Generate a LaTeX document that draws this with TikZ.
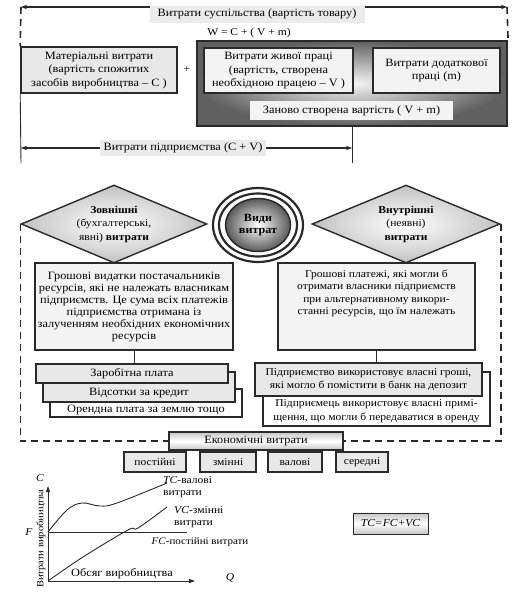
\documentclass[tikz,border=0pt]{standalone}
\usepackage{fontspec}
\setmainfont{Liberation Serif}[FakeStretch=1.1]
\usetikzlibrary{shapes.geometric,arrows.meta,calc}
\definecolor{lineC}{HTML}{2A2A2A}
\definecolor{fillC}{HTML}{E8E8E8}
\definecolor{lblC}{HTML}{EBEBEB}
\definecolor{paleC}{HTML}{F3F3F3}
\begin{document}
\begin{tikzpicture}[x=1pt,y=-1pt,
  every node/.style={inner sep=0pt},
  txt/.style={font=\fontsize{10.5}{12.5}\selectfont, align=center},
  big/.style={font=\fontsize{11.2}{13.2}\selectfont},
  lbl/.style={txt, big, fill=lblC, inner xsep=4pt, inner ysep=2.5pt},
  box/.style={txt, draw=lineC, line width=1.6pt, fill=fillC},
  pale/.style={box, fill=paleC},
  arr/.style={line width=1.2pt, lineC, {Stealth[length=6pt,width=4.5pt]}-{Stealth[length=6pt,width=4.5pt]}},
  dashl/.style={line width=1.6pt, lineC, dash pattern=on 7pt off 5pt},
  conn/.style={line width=0.9pt, lineC},
  grad/.style={top color=gray!45, bottom color=gray!45, middle color=white},
  axarr/.style={conn, -{Triangle[length=6pt,width=4pt]}},
]
\useasboundingbox (0,0) rectangle (515,600);
% ---------- top section ----------
\coordinate (tL) at (21,7);
\coordinate (tR) at (507,7);
\draw[arr] (tL) -- (tR);
\node[lbl, minimum width=215, minimum height=17] (soc) at (257,14) {Витрати суспільства (вартість товару)};
\node[txt] (wf) at (249,33) {W = C + ( V + m)};
\node[box, minimum width=156, minimum height=46, font=\fontsize{11.2}{13.5}\selectfont] (mat) at (99,70) {Матеріальні витрати\\(вартість спожитих\\засобів виробництва – C )};
\node[txt] (plus) at (187,70) {+};
\node[draw=lineC, line width=2.2pt, minimum width=310, minimum height=85, shading=radial, inner color=gray!8, outer color=gray!75!black] (big) at (352,83.5) {};
\node[pale, minimum width=149, minimum height=45, font=\fontsize{11.2}{13.5}\selectfont] (live) at (278.5,70.5) {Витрати живої праці\\(вартість, створена\\необхідною працею – V )};
\node[pale, minimum width=127, minimum height=45, font=\fontsize{11.2}{13.5}\selectfont] (add) at (436.5,70.5) {Витрати додаткової\\праці (m)};
\node[lbl, fill=paleC, minimum width=203, minimum height=19] (newv) at (351.5,110.5) {Заново створена вартість ( V + m)};
\draw[dashl] (tL) -- (mat.north west);
\draw[dashl] (tR) -- (big.north east);
\coordinate (bL) at (21,163);
\coordinate (bR) at (352,163);
\draw[conn] (mat.south west) -- (bL);
\draw[conn] (big.south) -- (bR);
\coordinate (aL) at (21,148);
\coordinate (aR) at (352,148);
\draw[arr] (aL) -- (aR);
\node[lbl] (ent) at (183,148) {Витрати підприємства (C + V)};
% ---------- middle section ----------
\node[diamond, draw=lineC, line width=1.4pt, minimum width=186, minimum height=78, shape aspect=2.4, shading=radial, inner color=white, outer color=gray!48, txt, font=\fontsize{10.5}{13.5}\selectfont] (ext) at (114,224) {\textbf{Зовнішні}\\(бухгалтерські,\\явні) \textbf{витрати}};
\node[diamond, draw=lineC, line width=1.4pt, minimum width=188, minimum height=78, shape aspect=2.4, shading=radial, inner color=white, outer color=gray!48, txt, font=\fontsize{10.5}{13.5}\selectfont] (int) at (406,224) {\textbf{Внутрішні}\\(неявні)\\\textbf{витрати}};
\node[ellipse, draw=lineC, line width=2.2pt, minimum width=90, minimum height=74, fill=white] (vo) at (258,225) {};
\node[ellipse, draw=lineC, line width=2.2pt, minimum width=78, minimum height=63] (vm) at (258,225) {};
\node[ellipse, draw=lineC, line width=1.5pt, minimum width=65, minimum height=53, shading=radial, inner color=white, outer color=gray!70!black, txt, font=\fontsize{11}{12.5}\selectfont] (vidy) at (258,225) {\textbf{Види}\\\textbf{витрат}};
\node[pale, minimum width=198, minimum height=87, font=\fontsize{11.2}{12}\selectfont] (extb) at (134,306.5) {Грошові видатки постачальників\\ресурсів, які не належать власникам\\підприємств. Це сума всіх платежів\\підприємства отримана із\\залученням необхідних економічних\\ресурсів};
\node[pale, minimum width=197, minimum height=87] (intb) at (376.5,306.5) {};
\node[txt, font=\fontsize{10.5}{12.3}\selectfont] (intt) at (376.5,293.5) {Грошові платежі, які могли б\\отримати власники підприємств\\при альтернативному викори-\\станні ресурсів, що їм належать};
% left stack
\node[box, fill=white, minimum width=192, minimum height=28] (l3) at (146,403) {};
\node[txt, big] (l3t) at (146,409.5) {Орендна плата за землю тощо};
\node[box, minimum width=192, minimum height=30] (l2) at (139,387) {};
\node[txt, big] (l2t) at (139,392.5) {Відсотки за кредит};
\node[box, big, minimum width=192, minimum height=19] (l1) at (132,373.5) {Заробітна плата};
\draw[conn] (extb.south) -- (extb.south |- l1.north);
% right stack
\node[box, fill=white, minimum width=227, minimum height=54] (r2) at (376.5,399) {};
\node[txt, font=\fontsize{10.5}{13.5}\selectfont] (r2t) at (376.5,411) {Підприємець використовує власні примі-\\щення, що могли б передаватися в оренду};
\node[box, minimum width=227, minimum height=33, font=\fontsize{10.5}{13.5}\selectfont] (r1) at (368.5,379.5) {Підприємство використовує власні гроші,\\які могло б помістити в банк на депозит};
\draw[conn] (intb.south) -- (intb.south |- r1.north);
% economic costs
\node[box, grad, big, minimum width=174, minimum height=18] (econ) at (256,441) {Економічні витрати};
\draw[dashl] (ext.west) |- (econ.west);
\draw[dashl] (int.east) |- (econ.east);
\node[box, minimum width=62, minimum height=20] (post) at (155,462) {постійні};
\node[box, minimum width=56, minimum height=20] (zmin) at (228,462) {змінні};
\node[box, minimum width=54, minimum height=20] (val) at (295,462) {валові};
\node[box, minimum width=52, minimum height=20] (ser) at (362,462) {середні};
% ---------- graph ----------
\coordinate (O) at (48,581);
\coordinate (yT) at (48,486);
\coordinate (xR) at (195,581);
\draw[axarr] (O) -- (yT);
\draw[axarr] (O) -- (xR);
\node[txt] (Cl) at (40,478) {\textit{C}};
\node[txt] (Ql) at (230,578) {\textit{Q}};
\node[txt, big] (obs) at (122,574) {Обсяг виробництва};
\node[txt, font=\fontsize{9.6}{11}\selectfont, rotate=90] (vyr) at (41,539) {Витрати виробництва};
\node[txt] (Fl) at (29,532) {\textit{F}};
\coordinate (Fp) at (48,532);
\coordinate (FcE) at (187,532);
\draw[conn] (Fp) -- (FcE);
\node[txt, font=\fontsize{10}{12}\selectfont] (fcl) at (200,542) {\textit{FC}-постійні витрати};
\draw[conn] plot[smooth, tension=0.6] coordinates {(Fp) (67,510) (82,503) (100,506) (117,503) (167,483)};
\node[txt, align=left, anchor=north west] (tcl) at (163,476) {\textit{TC}-валові\\витрати};
\draw[conn] plot[smooth, tension=0.6] coordinates {(O) (83,557) (128,530) (138,528) (167,507)};
\node[txt, align=left, anchor=west] (vcl) at (174,517) {\textit{VC}-змінні\\витрати};
\node[box, grad, line width=1pt, minimum width=75, minimum height=21] (tcf) at (390.5,523.5) {\textit{TC=FC+VC}};
\end{tikzpicture}
\end{document}
